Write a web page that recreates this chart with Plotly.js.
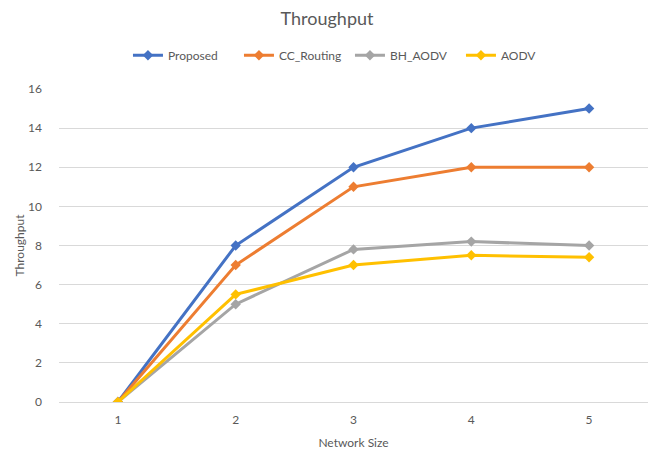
<!DOCTYPE html>
<html>
<head>
<meta charset="utf-8">
<script src="https://cdn.plot.ly/plotly-3.0.1.min.js"></script>
<style>html,body{margin:0;padding:0;background:#fff;}#chart{width:654px;height:457px;}</style>
</head>
<body>
<div id="chart"></div>
<script>
// Network sizes on the x axis
const networkSize = [1, 2, 3, 4, 5];
// Throughput per routing scheme
const proposed = [0, 8, 12, 14, 15];
const ccRouting = [0, 7, 11, 12, 12];
const bhAodv = [0, 5, 7.8, 8.2, 8];
const aodv = [0, 5.5, 7, 7.5, 7.4];
const seriesNames = ['Proposed', 'CC_Routing', 'BH_AODV', 'AODV'];
const seriesColors = ['#4472c4', '#ed7d31', '#a5a5a5', '#ffc000'];
const seriesValues = [proposed, ccRouting, bhAodv, aodv];

const traces = seriesValues.map((vals, i) => ({
  x: networkSize,
  y: vals,
  name: seriesNames[i],
  type: 'scatter',
  mode: 'lines+markers',
  line: {color: seriesColors[i], width: 3},
  marker: {color: seriesColors[i], symbol: 'diamond', size: 8}
}));

const font = {family: 'Lato, Open Sans, Liberation Sans, sans-serif', color: '#595959', size: 12};

const layout = {
  width: 654, height: 457,
  margin: {l: 59, r: 6, t: 89, b: 55},
  paper_bgcolor: '#fff', plot_bgcolor: '#fff',
  font: font,
  title: {text: 'Throughput', font: {family: font.family, size: 18, color: '#595959'}, x: 0.5, xanchor: 'center', y: 0.96, yanchor: 'middle'},
  showlegend: true,
  legend: {orientation: 'h', x: 0.494, xanchor: 'center', y: 1.108, yanchor: 'middle',
           font: {size: 12, color: '#595959'}, itemwidth: 30, entrywidth: 66, traceorder: 'normal'},
  xaxis: {
    range: [0.5, 5.5], tickvals: networkSize, ticktext: networkSize.map(String),
    showgrid: false, zeroline: false, showline: false, ticks: '',
    ticklabelstandoff: 9,
    tickfont: {size: 12, color: '#595959'},
    title: {text: 'Network Size', font: {size: 12, color: '#595959'}, standoff: 12}
  },
  yaxis: {
    range: [0, 16], dtick: 2, showgrid: true, gridcolor: '#d9d9d9', gridwidth: 1,
    zeroline: true, zerolinecolor: '#d9d9d9', zerolinewidth: 1,
    showline: false, ticks: '', ticklabelstandoff: 16,
    tickfont: {size: 12, color: '#595959'},
    title: {text: 'Throughput', font: {size: 12, color: '#595959'}, standoff: 0}
  }
};
Plotly.newPlot('chart', traces, layout, {displayModeBar: false, staticPlot: true});
</script>
</body>
</html>
